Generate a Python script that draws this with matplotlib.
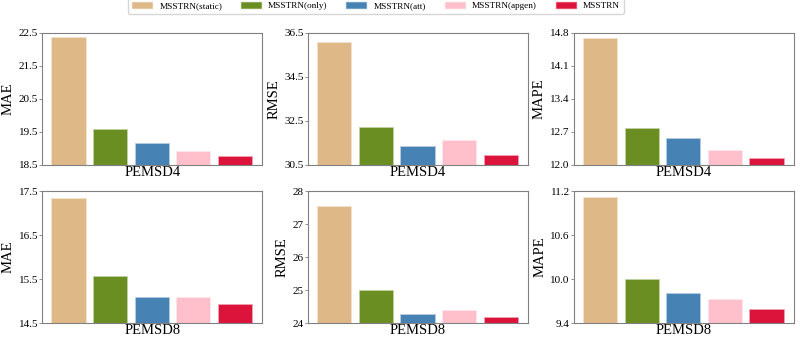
import numpy as np
from matplotlib import pyplot as plt
from matplotlib.patches import Patch
from matplotlib.colors import to_rgba

plt.rcParams['font.family'] = ['Liberation Serif', 'DejaVu Serif']

models = ["MSSTRN(static)", "MSSTRN(only)", "MSSTRN(att)", "MSSTRN(apgen)", "MSSTRN"]
colors = ["burlywood", "olivedrab", "steelblue", "pink", "crimson"]

datasets = ["PEMSD4", "PEMSD8"]
metrics = ["MAE", "RMSE", "MAPE"]

# values
pemsd4_mae = [22.35, 19.57, 19.12, 18.89, 18.75]
pemsd4_rmse = [36.03, 32.19, 31.32, 31.58, 30.89]
pemsd4_mape = [14.68, 12.75, 12.55, 12.30, 12.13]
pemsd8_mae = [17.33, 15.55, 15.06, 15.06, 14.91]
pemsd8_rmse = [27.52, 24.96, 24.24, 24.38, 24.16]
pemsd8_mape = [11.10, 9.99, 9.80, 9.72, 9.58]

pemsd4_ticks = [[18.5, 19.5, 20.5, 21.5, 22.5],
                [30.5, 32.5, 34.5, 36.5],
                [12.0, 12.7, 13.4, 14.1, 14.8]]
pemsd8_ticks = [[14.5, 15.5, 16.5, 17.5],
                [24, 25, 26, 27, 28],
                [9.4, 10.0, 10.6, 11.2]]

values = [[pemsd4_mae, pemsd4_rmse, pemsd4_mape],
          [pemsd8_mae, pemsd8_rmse, pemsd8_mape]]
ticks = [pemsd4_ticks, pemsd8_ticks]
tick_fmt = [["%.1f", "%.1f", "%.1f"], ["%.1f", "%d", "%.1f"]]

fig, axes = plt.subplots(2, 3, figsize=(8, 3.39), dpi=100)
fig.subplots_adjust(left=0.053, right=0.992, top=0.903, bottom=0.047,
                    wspace=0.21, hspace=0.2)

edge = [to_rgba(col, 0.5) for col in colors]
x = np.arange(len(models))
for r in range(2):
    for c in range(3):
        ax = axes[r, c]
        ax.bar(x, values[r][c], width=0.8, color=colors, edgecolor=edge,
               linewidth=1.2)
        t = ticks[r][c]
        ax.set_ylim(t[0], t[-1])
        ax.set_yticks(t)
        ax.set_yticklabels([tick_fmt[r][c] % v for v in t], fontsize=8)
        ax.set_xticks([])
        ax.set_xlabel(datasets[r], fontsize=10.5, labelpad=1)
        ax.set_ylabel(metrics[c], fontsize=10.5, labelpad=3)
        ax.tick_params(axis='y', length=2, width=0.6, pad=1, color='gray')
        for s in ax.spines.values():
            s.set_color('gray')
            s.set_linewidth(0.8)

handles = [Patch(facecolor=col, edgecolor=e) for col, e in zip(colors, edge)]
fig.legend(handles, models, loc='upper center', ncol=5, fontsize=6.7,
           bbox_to_anchor=(0.47, 1.02), frameon=True, handlelength=2.15,
           handletextpad=0.8, columnspacing=2.0, borderpad=0.4)

plt.savefig("out.png", dpi=100)
